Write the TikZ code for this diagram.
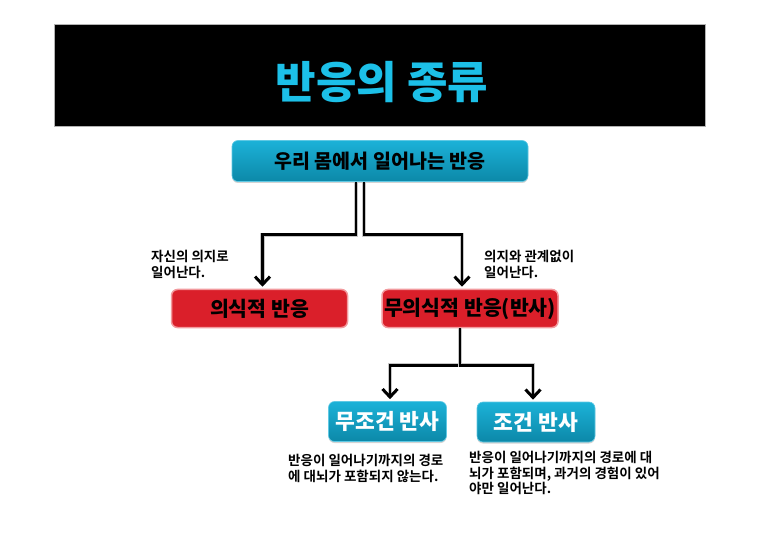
\documentclass[tikz,border=0pt]{standalone}
\usepackage{fontspec}
\setmainfont{Noto Sans CJK KR}[BoldFont={Noto Sans CJK KR Bold}]
\newfontfamily\heavy{Noto Sans CJK KR Black}
\usepackage{tikz}
\usetikzlibrary{arrows.meta,positioning,shadows}

\definecolor{titlecyan}{HTML}{1CC0E8}
\definecolor{tealtop}{HTML}{1CB2D8}
\definecolor{tealbot}{HTML}{0C88A8}
\definecolor{redfill}{HTML}{DA1F2A}
\definecolor{redline}{HTML}{F29A9E}

\begin{document}
\begin{tikzpicture}[x=1pt, y=-1pt,
    tealbox/.style={rounded corners=6pt, top color=tealtop, bottom color=tealbot,
      draw=tealtop!70!white, line width=0.6pt, inner sep=0pt,
      drop shadow={shadow xshift=0pt, shadow yshift=-1.5pt, opacity=0.35},
      font=\fontsize{19.5}{22}\heavy},
    redbox/.style={rounded corners=6pt, fill=redfill, draw=redline, line width=1.5pt,
      inner sep=0pt, minimum width=176pt, minimum height=38pt,
      font=\fontsize{20.5}{22}\heavy},
    note/.style={align=left, inner sep=0pt, anchor=north west,
      font=\fontsize{13.5}{15.5}\selectfont\bfseries},
    wire/.style={draw=black, line width=2.8pt,
      -{Straight Barb[length=8pt, width=15pt, line width=3pt]},
      preaction={draw=gray!45, line width=4.4pt, shorten >=6pt, -}}]
  \useasboundingbox (0,0) rectangle (760,537);

  \node[fill=black, draw=gray!60, line width=0.5pt, minimum width=651pt,
    minimum height=102pt, inner sep=0pt] (head) at (379.5,75.5) {};
  \node[text=titlecyan, font=\fontsize{44}{46}\heavy] (title) at (382,82) {반응의 종류};

  \node[tealbox, minimum width=296pt, minimum height=41pt] (r0) at (380,161) {우리 몸에서 일어나는 반응};
  \node[redbox] (r1) at (259.5,308.5) {의식적 반응};
  \node[redbox] (r2) at (470,308.5) {무의식적 반응(반사)};
  \node[tealbox, text=white, font=\fontsize{21.5}{22}\heavy, minimum width=118pt, minimum height=40pt] (r3) at (387.5,421.5) {무조건 반사};
  \node[tealbox, text=white, font=\fontsize{21.5}{22}\heavy, minimum width=118pt, minimum height=40pt] (r4) at (536,422) {조건 반사};

  \node[note] (n1) at (151,250) {자신의 의지로\\일어난다.};
  \node[note] (n2) at (484,250) {의지와 관계없이\\일어난다.};
  \node[note] (n3) at (288,454) {반응이 일어나기까지의 경로\\에 대뇌가 포함되지 않는다.};
  \node[note] (n4) at (469,451) {반응이 일어나기까지의 경로에 대\\뇌가 포함되며, 과거의 경험이 있어\\야만 일어난다.};

  \draw[wire] ([xshift=-24pt]r0.south) -- ++(0,53) -| ([xshift=3pt, yshift=2pt]r1.north);
  \draw[wire] ([xshift=-16pt]r0.south) -- ++(0,53) -| ([xshift=-8pt, yshift=2pt]r2.north);
  \draw[wire] ([xshift=-10pt]r2.south) -- ++(0,37) -| ([xshift=2.5pt, yshift=2pt]r3.north);
  \draw[wire] ([xshift=-10pt]r2.south) -- ++(0,37) -| ([xshift=-3pt, yshift=2pt]r4.north);
\end{tikzpicture}
\end{document}
